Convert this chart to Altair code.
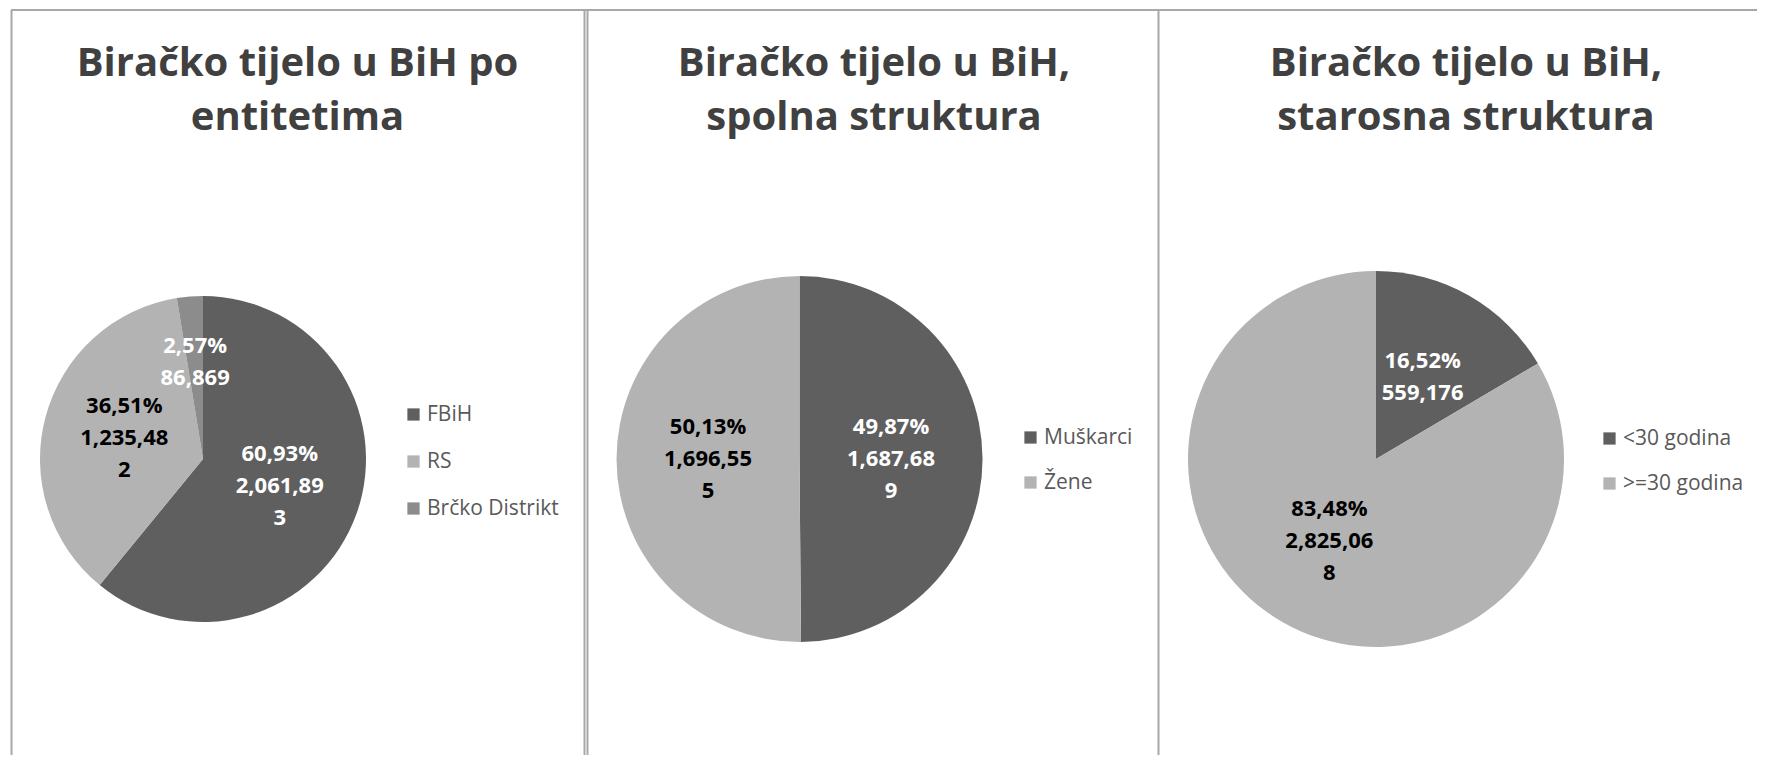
import json
import altair as alt
import pandas as pd

# ---------------- data ----------------
entity_cats = ["FBiH", "RS", "Brčko Distrikt"]
entity_vals = [2061893, 1235482, 86869]
entity_pcts = [60.93, 36.51, 2.57]

gender_cats = ["Muškarci", "Žene"]
gender_vals = [1687689, 1696555]
gender_pcts = [49.87, 50.13]

age_cats = ["<30 godina", ">=30 godina"]
age_vals = [559176, 2825068]
age_pcts = [16.52, 83.48]

titles = [
    "Biračko tijelo u BiH po\nentitetima",
    "Biračko tijelo u BiH,\nspolna struktura",
    "Biračko tijelo u BiH,\nstarosna struktura",
]

# ---------------- style ----------------
DARK, LIGHT, MID = "#5f5f5f", "#b3b3b3", "#8c8c8c"
FONT = "Open Sans"
W, H = 1749, 747
FRAME = "#a8a8a8"
LABEL_LH = 32


def wrap(s, n=8):
    return "\n".join(s[i:i + n] for i in range(0, len(s), n))


def make_df(cats, vals, pcts):
    labels = [
        f"{p:.2f}".replace(".", ",") + "%\n" + wrap(f"{v:,}")
        for v, p in zip(vals, pcts)
    ]
    return pd.DataFrame(
        {
            "cat": cats,
            "value": vals,
            "idx": list(range(len(cats))),
            "label": labels,
            "nlines": [lab.count("\n") + 1 for lab in labels],
        }
    )


def pie(df, cats, colors, dark_cats, cx, cy, r, lx, ly, row_pad, label_frac=None):
    label_frac = label_frac or {}
    arc = (
        alt.Chart(df)
        .mark_arc(outerRadius=r, strokeWidth=0)
        .encode(
            theta=alt.Theta("value:Q", stack=True),
            order=alt.Order("idx:Q"),
            x=alt.value(cx),
            y=alt.value(cy),
            color=alt.Color(
                "cat:N",
                sort=cats,
                scale=alt.Scale(domain=cats, range=colors),
                legend=alt.Legend(
                    title=None,
                    orient="none",
                    legendX=lx,
                    legendY=ly,
                    symbolType="square",
                    symbolSize=150,
                    symbolStrokeWidth=0,
                    symbolOffset=0,
                    padding=0,
                    labelFont=FONT,
                    labelFontSize=21,
                    labelColor="#595959",
                    labelOffset=3,
                    rowPadding=row_pad,
                ),
            ),
        )
    )
    test = f"indexof({json.dumps(dark_cats, ensure_ascii=False)}, datum.cat) >= 0"
    text_base = (
        alt.Chart(df)
        .transform_window(
            cum="sum(value)", sort=[alt.SortField("idx")], frame=[None, 0]
        )
        .transform_calculate(mid="datum.cum - datum.value / 2")
    )
    layers = [arc]
    for n in sorted(set(df["nlines"])):
        layers.append(
            text_base.transform_filter(f"datum.nlines == {n}")
            .mark_text(
                radius=r * label_frac.get(n, 0.5),
                font=FONT,
                fontWeight="bold",
                fontSize=22,
                lineBreak="\n",
                lineHeight=LABEL_LH,
                align="center",
                baseline="middle",
                dy=-(n - 1) * LABEL_LH / 2,
            )
            .encode(
                theta=alt.Theta("mid:Q", stack=None),
                x=alt.value(cx),
                y=alt.value(cy),
                text="label:N",
                color=alt.condition(test, alt.value("#ffffff"), alt.value("#000000")),
            )
        )
    return alt.layer(*layers)


def vline(x):
    return (
        alt.Chart(alt.Data(values=[{}]))
        .mark_rule(color=FRAME, strokeWidth=2)
        .encode(x=alt.value(x), y=alt.value(2), y2=alt.value(H + 50))
    )


def title_text(t, x):
    return (
        alt.Chart(alt.Data(values=[{}]))
        .mark_text(
            font=FONT,
            fontWeight="bold",
            fontSize=40,
            lineBreak="\n",
            lineHeight=54,
            align="center",
            baseline="alphabetic",
            color="#404040",
        )
        .encode(x=alt.value(x), y=alt.value(68), text=alt.value(t))
    )


top_line = (
    alt.Chart(alt.Data(values=[{}]))
    .mark_rule(color=FRAME, strokeWidth=2)
    .encode(x=alt.value(3), x2=alt.value(W + 50), y=alt.value(2))
)

frames = [top_line, vline(3.5), vline(576.5), vline(579.5), vline(1150.5)]
title_marks = [
    title_text(titles[0], 289.5),
    title_text(titles[1], 866),
    title_text(titles[2], 1458),
]

p1 = pie(make_df(entity_cats, entity_vals, entity_pcts), entity_cats,
         [DARK, LIGHT, MID], ["FBiH", "Brčko Distrikt"],
         195, 451, 163, 395, 396, 25, label_frac={2: 0.6})
p2 = pie(make_df(gender_cats, gender_vals, gender_pcts), gender_cats,
         [DARK, LIGHT], ["Muškarci"],
         791.5, 451, 183, 1012, 419, 23)
p3 = pie(make_df(age_cats, age_vals, age_pcts), age_cats,
         [DARK, LIGHT], ["<30 godina"],
         1368, 451, 188, 1591, 420, 23)

chart = (
    alt.layer(*frames, *title_marks, p1, p2, p3)
    .resolve_scale(theta="independent", color="independent")
    .properties(
        width=W,
        height=H,
        padding=0,
        autosize=alt.AutoSizeParams(type="none"),
        background="#ffffff",
    )
    .configure_view(stroke=None)
)

chart.save("out.html", embed_options={"renderer": "svg", "actions": False})
